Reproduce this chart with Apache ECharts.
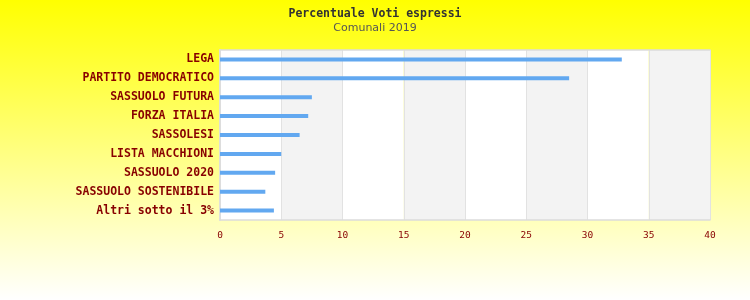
<!DOCTYPE html>
<html><head><meta charset="utf-8">
<script src="https://cdn.jsdelivr.net/npm/echarts@6/dist/echarts.min.js"></script>
<style>html,body{margin:0;padding:0;}#c{width:750px;height:300px;}</style>
</head><body><div id="c"></div>
<script>
const categories = ["LEGA","PARTITO DEMOCRATICO","SASSUOLO FUTURA","FORZA ITALIA","SASSOLESI","LISTA MACCHIONI","SASSUOLO 2020","SASSUOLO SOSTENIBILE","Altri sotto il 3%"];
const values = [32.8, 28.5, 7.5, 7.2, 6.5, 5.0, 4.5, 3.7, 4.4];
const titleText = "Percentuale Voti espressi";
const subtitleText = "Comunali 2019";

const borderLine = {show:true, lineStyle:{color:'#dcdcdc', width:1.5}};
const chart = echarts.init(document.getElementById('c'), null, {renderer:'canvas'});
chart.setOption({
  backgroundColor: {type:'linear', x:0, y:0, x2:0, y2:1, colorStops:[{offset:0,color:'#ffff00'},{offset:1,color:'#ffffff'}]},
  title: {
    text: titleText, subtext: subtitleText, left: 'center', top: 3, itemGap: 3,
    textStyle: {fontFamily:'DejaVu Sans Mono', fontWeight:'bold', fontSize:11.5, color:'#333'},
    subtextStyle: {fontFamily:'DejaVu Sans', fontSize:11, color:'#555'}
  },
  grid: {left:220, right:40, top:50, bottom:80},
  xAxis: [{
    type:'value', min:0, max:40, interval:5,
    axisLine:borderLine, axisTick:{show:false},
    axisLabel:{fontFamily:'DejaVu Sans Mono', fontSize:9.5, color:'#880000', margin:11},
    splitLine:{show:true, lineStyle:{color:'#e2e2e2', width:1}},
    splitArea:{show:true, areaStyle:{color:['#ffffff','#f3f3f3']}}
  },{
    type:'value', position:'top', min:0, max:40, interval:5,
    axisLine:borderLine, axisTick:{show:false}, axisLabel:{show:false}, splitLine:{show:false}
  }],
  yAxis: [{
    type:'category', data:categories, inverse:true,
    axisLine:borderLine, axisTick:{show:false},
    axisLabel:{fontFamily:'DejaVu Sans Mono', fontWeight:'bold', fontSize:11.5, color:'#880000', margin:6},
    splitLine:{show:false}
  },{
    type:'category', data:categories, inverse:true, position:'right',
    axisLine:borderLine, axisTick:{show:false}, axisLabel:{show:false}, splitLine:{show:false}
  }],
  series: [{type:'bar', data:values, barWidth:4, itemStyle:{color:'#62a8f0'}, silent:true}]
});
</script></body></html>
